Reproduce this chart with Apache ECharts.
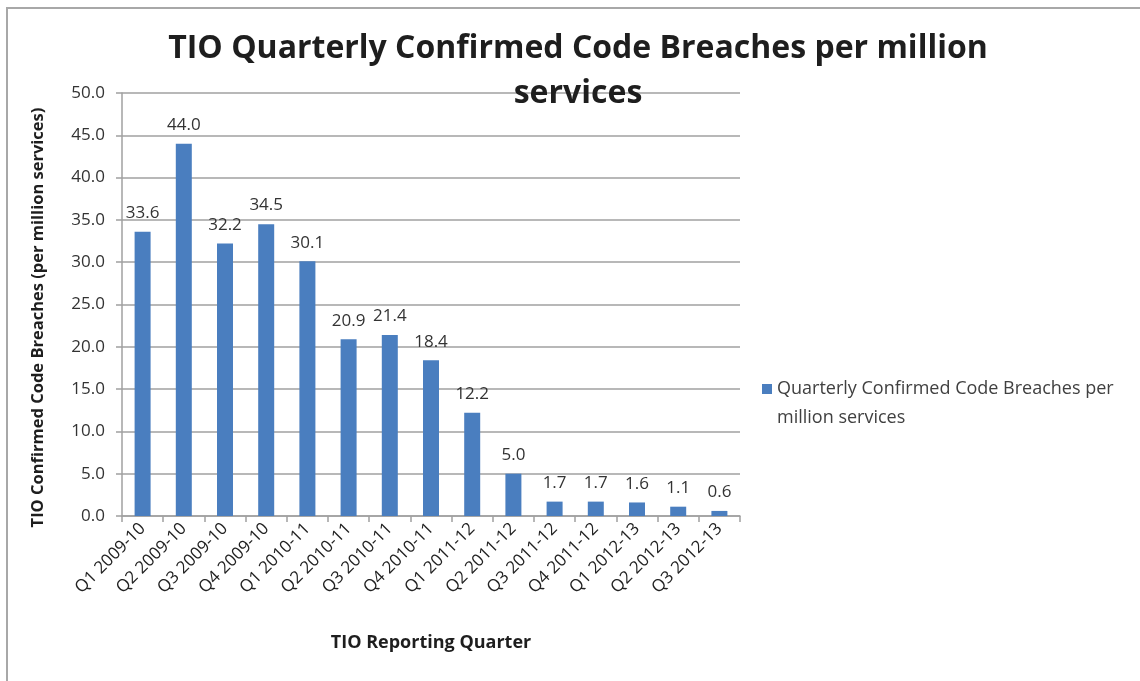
<!DOCTYPE html>
<html>
<head>
<meta charset="utf-8">
<script src="https://cdn.jsdelivr.net/npm/echarts@6/dist/echarts.min.js"></script>
<style>
  html, body { margin: 0; padding: 0; background: #fff; }
  #chart { width: 1140px; height: 681px; }
</style>
</head>
<body>
<div id="chart"></div>
<script>
// quarters and values
const quarters = [
  'Q1 2009-10', 'Q2 2009-10', 'Q3 2009-10', 'Q4 2009-10',
  'Q1 2010-11', 'Q2 2010-11', 'Q3 2010-11', 'Q4 2010-11',
  'Q1 2011-12', 'Q2 2011-12', 'Q3 2011-12', 'Q4 2011-12',
  'Q1 2012-13', 'Q2 2012-13', 'Q3 2012-13'
];
const breaches = [33.6, 44.0, 32.2, 34.5, 30.1, 20.9, 21.4, 18.4, 12.2, 5.0, 1.7, 1.7, 1.6, 1.1, 0.6];
const seriesName = 'Quarterly Confirmed Code Breaches per million services';

const chart = echarts.init(document.getElementById('chart'));

const font = '"Open Sans", Lato, sans-serif';

const option = {
  animation: false,
  textStyle: { fontFamily: font },
  title: {
    text: 'TIO Quarterly Confirmed Code Breaches per million\nservices',
    left: 578,
    top: 26,
    padding: 0,
    textAlign: 'center',
    textStyle: {
      fontFamily: font,
      fontSize: 32,
      fontWeight: 'bold',
      color: '#1e1e1e',
      lineHeight: 45
    }
  },
  legend: {
    left: 762,
    top: 374,
    padding: 0,
    orient: 'vertical',
    // square sits at the top so it lines up with the first text line
    icon: 'path://M0,0h10v10h-10zM0,38h0.01v0.01h-0.01z',
    itemWidth: 10,
    itemHeight: 38,
    itemGap: 6,
    itemTextGap: 6,
    formatter: () => 'Quarterly Confirmed Code Breaches per\nmillion services',
    textStyle: {
      fontFamily: font,
      fontSize: 18,
      color: '#404040',
      lineHeight: 29
    },
    data: [seriesName]
  },
  grid: {
    left: 122,
    right: 400,
    top: 93,
    bottom: 165,
    containLabel: false
  },
  xAxis: {
    type: 'category',
    data: quarters,
    name: 'TIO Reporting Quarter',
    nameLocation: 'middle',
    nameGap: 118,
    nameTextStyle: { fontFamily: font, fontSize: 18, fontWeight: 'bold', color: '#1e1e1e' },
    axisLine: { lineStyle: { color: '#a0a0a0', width: 1.5 } },
    axisTick: { show: true, alignWithLabel: false, length: 6, lineStyle: { color: '#a0a0a0', width: 1.5 } },
    axisLabel: {
      rotate: 45,
      interval: 0,
      margin: 10,
      fontFamily: font,
      fontSize: 17,
      color: '#222'
    }
  },
  yAxis: {
    type: 'value',
    min: 0,
    max: 50,
    interval: 5,
    name: 'TIO Confirmed Code Breaches (per million services)',
    nameLocation: 'middle',
    nameGap: 75,
    nameTextStyle: {
      fontFamily: font,
      fontSize: 16.5,
      fontWeight: 'bold',
      color: '#1e1e1e',
      padding: [0, 26, 0, 0]
    },
    axisLine: { show: true, lineStyle: { color: '#a0a0a0', width: 1.5 } },
    axisTick: { show: true, length: 6, lineStyle: { color: '#a0a0a0', width: 1.5 } },
    axisLabel: {
      margin: 17,
      fontFamily: font,
      fontSize: 17,
      color: '#333',
      formatter: v => v.toFixed(1)
    },
    splitLine: { lineStyle: { color: '#a0a0a0', width: 1.5 } }
  },
  series: [{
    name: seriesName,
    type: 'bar',
    data: breaches,
    barWidth: 16,
    itemStyle: { color: '#4a7ebf' },
    label: {
      show: true,
      position: 'top',
      distance: 10,
      fontFamily: font,
      fontSize: 17,
      color: '#333',
      formatter: p => p.value.toFixed(1)
    }
  }],
  graphic: [{
    type: 'polyline',
    shape: { points: [[7, 681], [7, 8], [1140, 8]] },
    style: { stroke: '#a8a8a8', lineWidth: 2, fill: null },
    silent: true
  }]
};

chart.setOption(option);
</script>
</body>
</html>
